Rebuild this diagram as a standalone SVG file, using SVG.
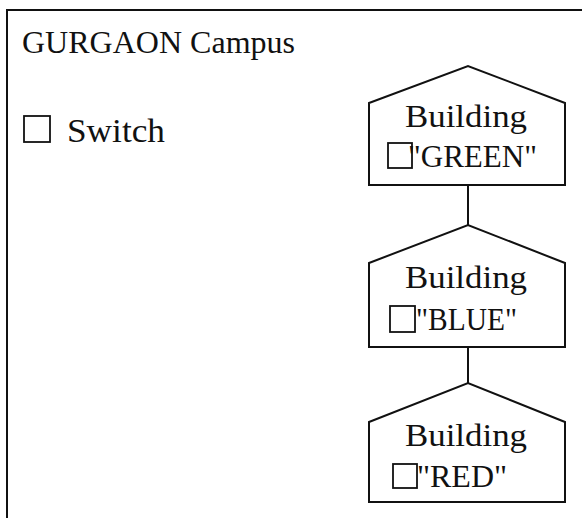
<svg xmlns="http://www.w3.org/2000/svg" width="582" height="518" viewBox="0 0 582 518">
<style>
  .ln { fill: none; stroke: #111; stroke-width: 2; }
  .box { fill: none; stroke: #111; stroke-width: 1.8; }
  .t { font-family: "Liberation Serif", "Times New Roman", serif; fill: #111; }
</style>
<rect width="582" height="518" fill="#fff"/>
<g id="campus">
  <path class="ln" d="M7,518 V10 H582"/>
  <text class="t" x="22" y="53" font-size="32" textLength="273" lengthAdjust="spacingAndGlyphs">GURGAON Campus</text>
</g>
<g id="legend">
  <rect class="box" x="24" y="116" width="26" height="26"/>
  <text class="t" x="67" y="142" font-size="34" textLength="98" lengthAdjust="spacingAndGlyphs">Switch</text>
</g>
<g id="connectors">
  <line class="ln" x1="468" y1="185" x2="468" y2="225"/>
  <line class="ln" x1="468" y1="347" x2="468" y2="383"/>
</g>
<g id="green">
  <path class="ln" d="M369,185 V103 L468,66 L565,103 V185 Z"/>
  <text class="t" x="405" y="127" font-size="31" textLength="122" lengthAdjust="spacingAndGlyphs">Building</text>
  <rect class="box" x="388" y="143" width="24" height="25"/>
  <text class="t" x="408" y="167" font-size="31" textLength="129" lengthAdjust="spacingAndGlyphs">"GREEN"</text>
</g>
<g id="blue">
  <path class="ln" d="M369,347 V263 L468,225 L565,263 V347 Z"/>
  <text class="t" x="405" y="288" font-size="31" textLength="122" lengthAdjust="spacingAndGlyphs">Building</text>
  <rect class="box" x="390" y="306" width="25" height="26"/>
  <text class="t" x="416" y="330" font-size="31" textLength="101" lengthAdjust="spacingAndGlyphs">"BLUE"</text>
</g>
<g id="red">
  <path class="ln" d="M369,502 V422 L468,383 L565,422 V502 Z"/>
  <text class="t" x="405" y="446" font-size="31" textLength="122" lengthAdjust="spacingAndGlyphs">Building</text>
  <rect class="box" x="393" y="464" width="24" height="24"/>
  <text class="t" x="417" y="487" font-size="31" textLength="90" lengthAdjust="spacingAndGlyphs">"RED"</text>
</g>
</svg>
